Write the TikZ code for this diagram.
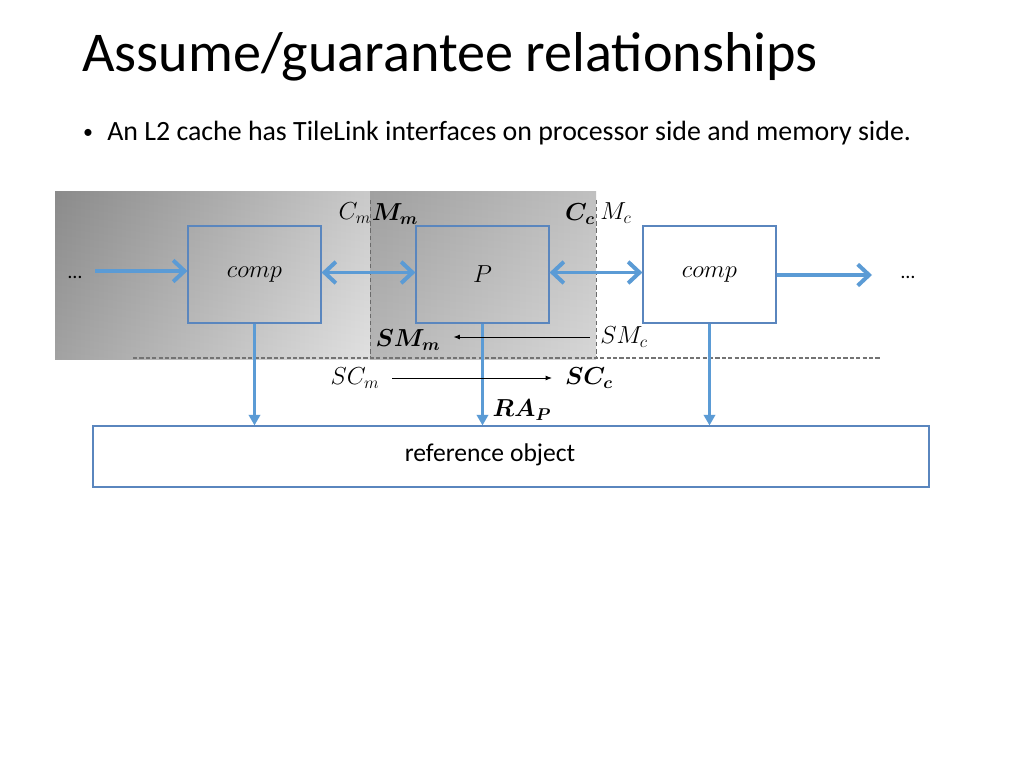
\documentclass[tikz,border=0pt]{standalone}
\usepackage{amsmath}
\usepackage{bm}
\usepackage{fontspec}
\setmainfont{Carlito}
\usetikzlibrary{arrows.meta,calc}
\definecolor{arrowblue}{HTML}{5B9BD5}
\definecolor{boxblue}{HTML}{5A86BE}
\definecolor{dashgray}{HTML}{6A6A6A}
\newlength\pxu
\setlength\pxu{0.703125pt}
\tikzset{
  comp box/.style={draw=boxblue, line width=0.8pt, minimum width=133*\pxu, minimum height=97*\pxu, inner sep=0pt, font=\fontsize{18.5}{20}\selectfont},
  harrow/.style={draw=arrowblue, line width=2.8pt, -{Straight Barb[length=8pt,width=15pt,line width=2.8pt]}},
  harrows/.style={draw=arrowblue, line width=2.8pt, {Straight Barb[length=8pt,width=15pt,line width=2.8pt]}-{Straight Barb[length=8pt,width=15pt,line width=2.8pt]}},
  varrow/.style={draw=arrowblue, line width=2.2pt, -{Triangle[length=7.5pt,width=8pt]}},
  sarrow/.style={draw=black, line width=0.6pt, -{Latex[length=4.5pt,width=3.5pt]}},
  guide/.style={draw=dashgray, line width=0.6pt, dash pattern=on 3pt off 2pt},
  hguide/.style={draw=black!55, line width=1pt, dash pattern=on 3pt off 1.5pt},
  lab/.style={font=\fontsize{18}{20}\selectfont, inner sep=1pt},
  dots/.style={font=\fontsize{14}{16}\selectfont, inner sep=1pt},
  veil/.style={top color=black, bottom color=white, opacity=0.09},
}
\begin{document}
\begin{tikzpicture}[x=0.703125pt, y=-0.703125pt]
\useasboundingbox (0,0) rectangle (1024,768);
\fill[white] (0,0) rectangle (1024,768);
% title and bullet
\node[anchor=base west, inner sep=0pt, font=\fontsize{39.5}{44}\selectfont] (title) at (82,72) {Assume/guarantee relationships};
\node[anchor=base west, inner sep=0pt, font=\fontsize{19.6}{24}\selectfont] (bullet) at (107,141) {An L2 cache has TileLink interfaces on processor side and memory side.};
\node[anchor=base, inner sep=0pt, font=\fontsize{14}{16}\selectfont] (bulletdot) at (88,139) {•};
% shaded backgrounds
\shade[left color=black!40, right color=black!13] (55,192) rectangle (370,359);
\shade[veil] (55,192) rectangle (370,359);
\shade[left color=black!31, right color=black!17] (370,192) rectangle (596,359);
\shade[veil] (370,192) rectangle (596,359);
% dashed guides
\draw[guide] (370,200) -- (370,357);
\draw[guide] (596,200) -- (596,357);
\draw[hguide] (133,358) -- (880,358);
% boxes
\node[comp box] (comp1) at (254.5,274.5) {$comp$};
\node[comp box] (P) at (482.5,274.5) {$P$};
\node[comp box, fill=white] (comp2) at (709.5,274.5) {$comp$};
\node[draw=boxblue, line width=0.8pt, minimum width=836*\pxu, minimum height=61*\pxu, inner sep=0pt] (ref) at (511,456.5) {};
\node[inner sep=0pt, font=\fontsize{18}{20}\selectfont] (reftext) at (490,455) {reference object};
% dots
\node[dots] (dotsL) at (75,277) {…};
\node[dots] (dotsR) at (908,277) {…};
\coordinate (inL) at (95,271);
\coordinate (outR) at (872,275);
% horizontal blue arrows
\draw[harrow] (inL) -- (inL -| comp1.west);
\draw[harrows] ([yshift=2\pxu]comp1.east) -- ([yshift=2\pxu]P.west);
\draw[harrows] ([yshift=2\pxu]P.east) -- ([yshift=2\pxu]comp2.west);
\draw[harrow] (outR -| comp2.east) -- (outR);
% vertical blue arrows
\draw[varrow] (comp1.south) -- (comp1.south |- ref.north);
\draw[varrow] (P.south) -- (P.south |- ref.north);
\draw[varrow] (comp2.south) -- (comp2.south |- ref.north);
% labels
\node[lab] (Cm) at (355,213) {$C_m$};
\node[lab] (Mm) at (395,214) {$\bm{M_m}$};
\node[lab] (Cc) at (580,214) {$\bm{C_c}$};
\node[lab] (Mc) at (616,213) {$M_c$};
\node[lab] (SMm) at (408,340) {$\bm{SM_m}$};
\node[lab] (SMc) at (624,337) {$SM_c$};
\node[lab] (SCm) at (355,378) {$SC_m$};
\node[lab] (SCc) at (589,378) {$\bm{SC_c}$};
\node[lab] (RAP) at (522,410) {$\bm{RA_P}$};
% black signal arrows
\draw[sarrow, shorten <=6pt, shorten >=8pt] (SMc.west) -- (SMc.west -| SMm.east);
\draw[sarrow, shorten <=8pt, shorten >=8pt] (SCm.east) -- (SCc.west);
\end{tikzpicture}
\end{document}
